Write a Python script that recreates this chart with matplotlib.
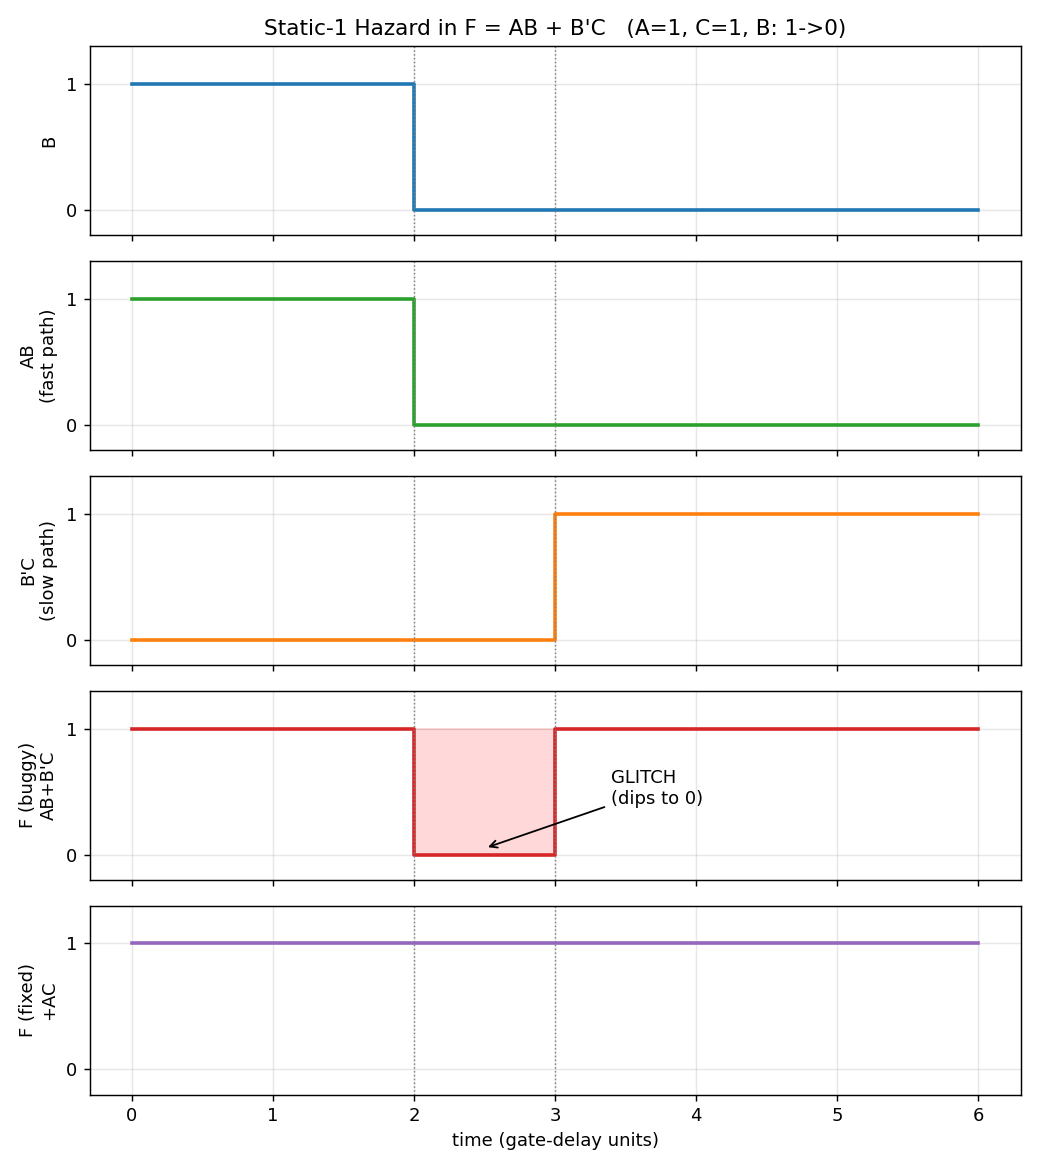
import numpy as np
import matplotlib.pyplot as plt

# time breakpoints (gate-delay units) and signal levels, step 'post'
t = [0, 2, 3, 6]
B = [1, 0, 0, 0]
AB = [1, 0, 0, 0]
BpC = [0, 0, 1, 1]
F_buggy = [1, 0, 1, 1]
F_fixed = [1, 1, 1, 1]

signals = [B, AB, BpC, F_buggy, F_fixed]
labels = ["B", "AB\n(fast path)", "B'C\n(slow path)", "F (buggy)\nAB+B'C", "F (fixed)\n+AC"]
colors = ["#1f77b4", "#2ca02c", "#ff7f0e", "#d62728", "#9467bd"]
events = [2, 3]

fig, axes = plt.subplots(5, 1, figsize=(8, 9), dpi=130, sharex=True)

for ax, sig, lab, col in zip(axes, signals, labels, colors):
    ax.step(t, sig, where='post', color=col, linewidth=2)
    ax.set_ylim(-0.2, 1.3)
    ax.set_yticks([0, 1])
    ax.set_ylabel(lab)
    ax.grid(True, alpha=0.3)
    for e in events:
        ax.axvline(e, color='gray', linestyle=':', linewidth=0.8)

# glitch shading
axes[3].fill_between([2, 3], 0, 1, color='red', alpha=0.15)
axes[3].annotate("GLITCH\n(dips to 0)", xy=(2.5, 0.05), xytext=(3.4, 0.4),
                 arrowprops=dict(arrowstyle='->', color='black'))

axes[0].set_title("Static-1 Hazard in F = AB + B'C   (A=1, C=1, B: 1->0)")
axes[-1].set_xlabel("time (gate-delay units)")

plt.tight_layout()
plt.savefig("out.png", dpi=130)
